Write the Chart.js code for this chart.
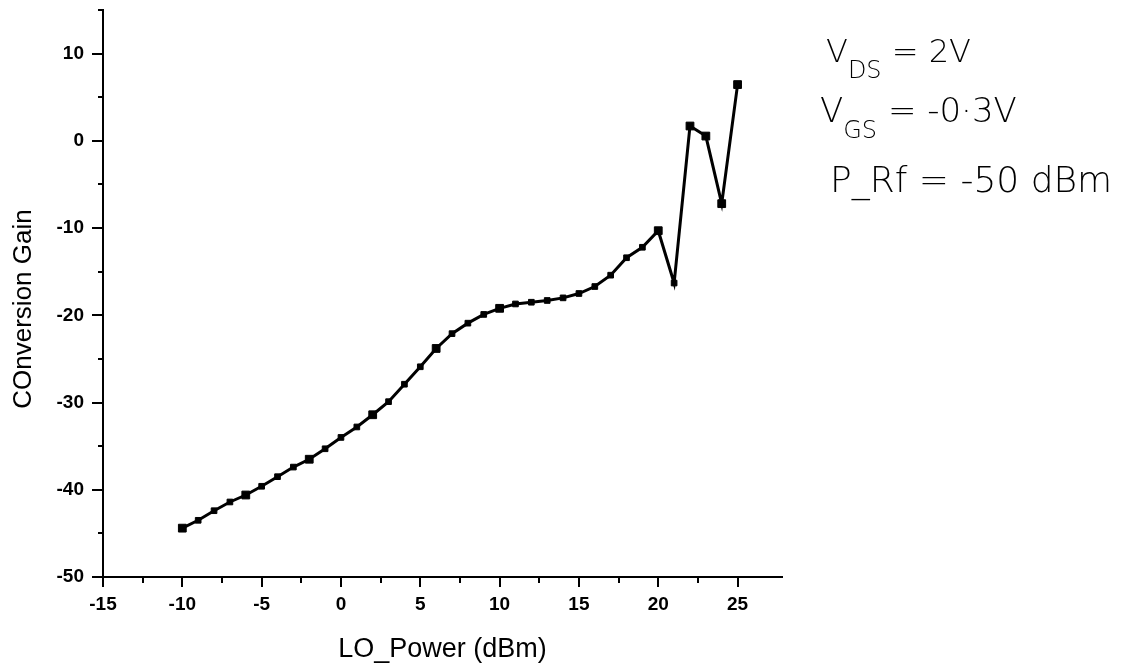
<!DOCTYPE html>
<html>
<head>
<meta charset="utf-8">
<title>Conversion Gain vs LO Power</title>
<script src="https://cdn.jsdelivr.net/npm/chart.js@4.4.1/dist/chart.umd.min.js"></script>
<style>
  html, body { margin: 0; padding: 0; background: #fff; }
  #wrap { width: 1138px; height: 670px; }
</style>
</head>
<body>
<div id="wrap"><canvas id="gainChart" width="1138" height="670"></canvas></div>
<script>
// LO power sweep (dBm)
const loPower = [-10, -9, -8, -7, -6, -5, -4, -3, -2, -1, 0, 1, 2, 3, 4, 5, 6, 7,
                 8, 9, 10, 11, 12, 13, 14, 15, 16, 17, 18, 19, 20, 21, 22, 23, 24, 25];
// measured conversion gain (dB)
const conversionGain = [-44.4, -43.5, -42.4, -41.4, -40.6, -39.6, -38.5, -37.4, -36.5,
                        -35.3, -34.0, -32.8, -31.4, -29.9, -27.9, -25.9, -23.8, -22.1,
                        -20.9, -19.9, -19.2, -18.7, -18.5, -18.3, -18.0, -17.5, -16.7,
                        -15.4, -13.4, -12.2, -10.3, -16.3, 1.7, 0.55, -7.2, 6.45];
const xTitle = 'LO_Power (dBm)';
const yTitle = 'COnversion Gain';
// bias conditions noted beside the plot: [main, subscript, rest]
const biasNotes = [
  ['V', 'DS', ' = 2V'],
  ['V', 'GS', ' = -0·3V'],
  ['P_Rf = -50 dBm', '', '']
];

const FONT = "'Liberation Sans', Arial, sans-serif";
const NOTE_FONT = '"DejaVu Sans", sans-serif';

// outward tick marks, long on labelled values, short in between
const axisTicks = {
  id: 'axisTicks',
  afterDraw(chart) {
    const { ctx, scales: { x, y } } = chart;
    ctx.save();
    ctx.strokeStyle = '#000';
    ctx.lineWidth = 2;
    x.ticks.forEach(t => {
      const v = t.value;
      if (Math.abs(v / 2.5 - Math.round(v / 2.5)) > 1e-6) return;
      const px = Math.round(x.getPixelForValue(v));
      const len = v % 5 === 0 ? 10 : 6;
      ctx.beginPath();
      ctx.moveTo(px, x.top);
      ctx.lineTo(px, x.top + len);
      ctx.stroke();
    });
    y.ticks.forEach(t => {
      const v = t.value;
      const py = Math.round(y.getPixelForValue(v));
      const len = v % 10 === 0 ? 11 : 5;
      ctx.beginPath();
      ctx.moveTo(y.right, py);
      ctx.lineTo(y.right - len, py);
      ctx.stroke();
    });
    ctx.restore();
  }
};

// y title and the handwritten bias notes
const sideText = {
  id: 'sideText',
  afterDraw(chart) {
    const ctx = chart.ctx;
    ctx.save();
    ctx.fillStyle = '#000';
    ctx.font = '26px ' + FONT;
    ctx.textAlign = 'center';
    ctx.textBaseline = 'middle';
    ctx.translate(24, 309);
    ctx.rotate(-Math.PI / 2);
    ctx.fillText(yTitle, 0, 0);
    ctx.restore();

    ctx.save();
    ctx.fillStyle = '#000';
    ctx.textAlign = 'left';
    ctx.textBaseline = 'alphabetic';
    const rows = [
      { x: 826, y: 62, size: 32 },
      { x: 820, y: 122, size: 34 },
      { x: 830, y: 192, size: 36 }
    ];
    biasNotes.forEach((n, i) => {
      const r = rows[i];
      let cx = r.x;
      ctx.font = '300 ' + r.size + 'px ' + NOTE_FONT;
      ctx.fillText(n[0], cx, r.y);
      cx += ctx.measureText(n[0]).width;
      if (n[1]) {
        ctx.font = '300 24px ' + NOTE_FONT;
        ctx.fillText(n[1], cx, r.y + 16);
        cx += ctx.measureText(n[1]).width;
      }
      if (n[2]) {
        ctx.font = '300 ' + r.size + 'px ' + NOTE_FONT;
        ctx.fillText(n[2], cx, r.y);
      }
    });
    ctx.restore();
  }
};

// heavier squares every fourth step and on the high-drive points
const bigMarker = v => (v <= 10 && (v + 10) % 4 === 0) || v === 20 || v >= 22;

new Chart(document.getElementById('gainChart'), {
  type: 'line',
  data: {
    labels: loPower,
    datasets: [{
      data: loPower.map((p, i) => ({ x: p, y: conversionGain[i] })),
      borderColor: '#000',
      backgroundColor: '#000',
      borderWidth: 3,
      pointStyle: 'rect',
      pointRadius: ctx => (ctx.raw && bigMarker(ctx.raw.x) ? 5.5 : 4),
      pointBorderWidth: 1,
      tension: 0
    }]
  },
  options: {
    responsive: false,
    animation: false,
    layout: { padding: { left: 0, top: 10, right: 356, bottom: 0 } },
    plugins: { legend: { display: false }, tooltip: { enabled: false } },
    scales: {
      x: {
        type: 'linear',
        min: -15,
        max: 27.8,
        afterFit(scale) {
          scale.height = 93;
          scale.paddingLeft = 0;
          scale.paddingRight = 0;
        },
        grid: { display: false, drawTicks: false },
        border: { display: true, color: '#000', width: 2 },
        ticks: {
          stepSize: 2.5,
          autoSkip: false,
          maxRotation: 0,
          padding: 16,
          color: '#000',
          font: { family: FONT, size: 19, weight: 'bold' },
          callback: v => (v % 5 === 0 ? String(v) : '')
        },
        title: {
          display: true,
          text: xTitle,
          color: '#000',
          font: { family: FONT, size: 27 },
          padding: { top: 0, bottom: 4 }
        }
      },
      y: {
        type: 'linear',
        min: -50,
        max: 15,
        afterFit(scale) {
          scale.width = 103;
          scale.paddingTop = 0;
          scale.paddingBottom = 0;
        },
        grid: { display: false, drawTicks: false },
        border: { display: true, color: '#000', width: 2 },
        ticks: {
          stepSize: 5,
          autoSkip: false,
          padding: 19,
          color: '#000',
          font: { family: FONT, size: 19, weight: 'bold' },
          callback: v => (v % 10 === 0 && v < 15 ? String(v) : '')
        }
      }
    }
  },
  plugins: [axisTicks, sideText]
});
</script>
</body>
</html>
